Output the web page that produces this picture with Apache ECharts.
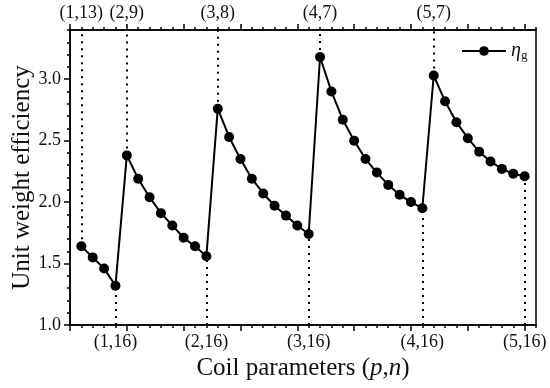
<!DOCTYPE html>
<html>
<head>
<meta charset="utf-8">
<script src="https://cdn.jsdelivr.net/npm/echarts@6/dist/echarts.min.js"></script>
<style>html,body{margin:0;padding:0;background:#fff}#c{width:550px;height:388px}</style>
</head>
<body>
<div id="c"></div>
<script>
// Unit weight efficiency eta_g per coil group (p fixed, n increasing)
const etaP1 = [1.64, 1.55, 1.46, 1.32];
const etaP2 = [2.38, 2.19, 2.04, 1.91, 1.81, 1.71, 1.64, 1.56];
const etaP3 = [2.76, 2.53, 2.35, 2.19, 2.07, 1.97, 1.89, 1.81, 1.74];
const etaP4 = [3.18, 2.90, 2.67, 2.50, 2.35, 2.24, 2.14, 2.06, 2.00, 1.95];
const etaP5 = [3.03, 2.82, 2.65, 2.52, 2.41, 2.33, 2.27, 2.23, 2.21];
const topLabels = ['(1,13)', '(2,9)', '(3,8)', '(4,7)', '(5,7)'];
const bottomLabels = ['(1,16)', '(2,16)', '(3,16)', '(4,16)', '(5,16)'];
const yTicks = [1.0, 1.5, 2.0, 2.5, 3.0];

const groups = [etaP1, etaP2, etaP3, etaP4, etaP5];
const data = [];
const topMap = {}, bottomMap = {};
const markLines = [];
const Y_MIN = 1.0, Y_MAX = 3.4;
groups.forEach((g, gi) => {
  g.forEach((v, i) => {
    const x = data.length + 1;
    data.push([x, v]);
    if (i === 0) {
      topMap[x] = topLabels[gi];
      markLines.push([{coord: [x, v]}, {coord: [x, Y_MAX]}]);
    }
    if (i === g.length - 1) {
      bottomMap[x] = bottomLabels[gi];
      markLines.push([{coord: [x, Y_MIN]}, {coord: [x, v]}]);
    }
  });
});
const X_MAX = data.length + 1;

const FONT = 'Liberation Serif';
const TXT = '#111';
const base = {type: 'value', min: 0, max: X_MAX, splitLine: {show: false}};
function xa(extra) { return Object.assign({}, base, extra); }
const majorTicks = [];
for (let v = 0; v <= data.length; v += 5) majorTicks.push(v);

const chart = echarts.init(document.getElementById('c'), null, {renderer: 'canvas'});
chart.setOption({
  animation: false,
  backgroundColor: '#fff',
  grid: {left: 70, right: 14, top: 30, bottom: 63, containLabel: false, outerBoundsMode: 'none',
         show: true, borderColor: '#000', borderWidth: 1.5},
  legend: {
    data: ['eta'], left: 456, top: 36, itemWidth: 44, itemHeight: 12, itemGap: 4,
    formatter: () => '{a|η}{b|g}',
    textStyle: {rich: {
      a: {fontFamily: FONT, fontStyle: 'italic', fontSize: 20, color: TXT},
      b: {fontFamily: FONT, fontSize: 13, color: TXT, padding: [10, 0, 0, 0]}
    }}
  },
  xAxis: [
    xa({position: 'bottom', interval: 1, name: 'Coil parameters ({i|p},{i|n})', nameLocation: 'middle', nameGap: 31,
        nameTextStyle: {fontFamily: FONT, fontSize: 25, color: TXT, rich: {i: {fontFamily: FONT, fontSize: 25, fontStyle: 'italic', color: TXT}}},
        axisLine: {show: true, lineStyle: {color: '#000', width: 1.5}},
        axisTick: {show: true, length: 3, lineStyle: {color: '#000', width: 1.5}},
        axisLabel: {show: false}}),
    xa({position: 'bottom', interval: 5,
        axisLine: {show: false},
        axisTick: {show: true, length: 6, customValues: majorTicks, lineStyle: {color: '#000', width: 1.5}},
        axisLabel: {show: false}}),
    xa({position: 'bottom', interval: 1,
        axisLine: {show: false}, axisTick: {show: false},
        axisLabel: {show: true, margin: 8, fontFamily: FONT, fontSize: 18, color: TXT,
          formatter: v => bottomMap[v] || ''}}),
    xa({position: 'top', interval: 1,
        axisLine: {show: true, lineStyle: {color: '#000', width: 1.5}},
        axisTick: {show: true, length: 3, lineStyle: {color: '#000', width: 1.5}},
        axisLabel: {show: false}}),
    xa({position: 'top', interval: 5,
        axisLine: {show: false},
        axisTick: {show: true, length: 6, customValues: majorTicks, lineStyle: {color: '#000', width: 1.5}},
        axisLabel: {show: false}}),
    xa({position: 'top', interval: 1,
        axisLine: {show: false}, axisTick: {show: false},
        axisLabel: {show: true, margin: 8, fontFamily: FONT, fontSize: 18, color: TXT,
          formatter: v => topMap[v] || ''}})
  ],
  yAxis: [
    {type: 'value', position: 'left', min: Y_MIN, max: Y_MAX, interval: 0.1, splitLine: {show: false},
     name: 'Unit weight efficiency', nameLocation: 'middle', nameGap: 35,
     nameTextStyle: {fontFamily: FONT, fontSize: 25, color: TXT},
     axisLine: {show: true, lineStyle: {color: '#000', width: 1.5}},
     axisTick: {show: true, length: 3, lineStyle: {color: '#000', width: 1.5}},
     axisLabel: {show: false}},
    {type: 'value', position: 'left', min: Y_MIN, max: Y_MAX, interval: 0.5, splitLine: {show: false},
     axisLine: {show: false},
     axisTick: {show: true, length: 6, customValues: yTicks, lineStyle: {color: '#000', width: 1.5}},
     axisLabel: {show: true, margin: 9, fontFamily: FONT, fontSize: 18, color: TXT,
       customValues: yTicks, formatter: v => v.toFixed(1)}}
  ],
  series: [{
    name: 'eta', type: 'line', xAxisIndex: 0, yAxisIndex: 0, data: data,
    symbol: 'circle', symbolSize: 10,
    itemStyle: {color: '#000'},
    lineStyle: {color: '#000', width: 2},
    z: 3,
    markLine: {
      silent: true, symbol: ['none', 'none'], label: {show: false},
      lineStyle: {color: '#000', width: 2, type: [2, 5]},
      emphasis: {disabled: true},
      data: markLines
    }
  }]
});
</script>
</body>
</html>
